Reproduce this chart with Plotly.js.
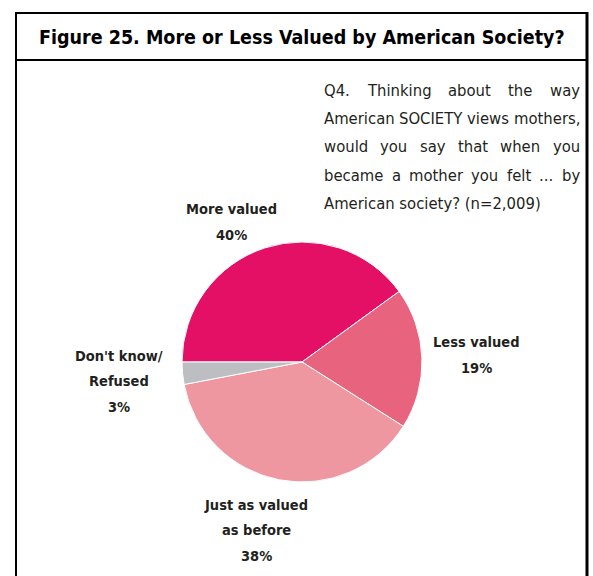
<!DOCTYPE html>
<html>
<head>
<meta charset="utf-8">
<script src="https://cdn.plot.ly/plotly-3.0.1.min.js"></script>
<style>
html,body{margin:0;padding:0;background:#fff;}
#chart{width:593px;height:576px;}
</style>
</head>
<body>
<div id="chart"></div>
<script>
// ---- data ----
const categories = ["More valued", "Less valued", "Just as valued as before", "Don't know/Refused"];
const labelLines = [["More valued"], ["Less valued"], ["Just as valued", "as before"], ["Don't know/", "Refused"]];
const values = [40, 19, 38, 3];
const colors = ["#E31066", "#E8647E", "#EF97A0", "#BDBEC2"];
const titleText = "Figure 25. More or Less Valued by American Society?";
const questionLines = [
  "Q4. Thinking about the way",
  "American SOCIETY views mothers,",
  "would you say that when you",
  "became a mother you felt ... by",
  "American society? (n=2,009)"
];

// ---- layout helpers (pixel -> paper) ----
const W = 593, H = 576;
const px = x => x / W;
const py = y => 1 - y / H;
const textColor = "#231F20";
const condFont = "'DejaVu Sans Condensed', 'Liberation Sans Narrow', sans-serif";

// pie geometry
const cx = 302, cy = 362, r = 120;

const annotations = [];

// title
annotations.push({
  xref: "paper", yref: "paper", x: px(302), y: py(37),
  xanchor: "center", yanchor: "middle", showarrow: false,
  text: "<b>" + titleText + "</b>",
  font: {family: condFont, size: 19.5, color: "#000"}
});

// slice labels (centre of text block, pixels) — same order as categories
const labelPos = [[231, 222], [476, 355], [256, 530], [119, 381]];
const lineGap = 25.5;
categories.forEach((c, i) => {
  const lines = labelLines[i].concat([values[i] + "%"]);
  const n = lines.length;
  lines.forEach((t, k) => {
    const yy = labelPos[i][1] + (k - (n - 1) / 2) * lineGap;
    annotations.push({
      xref: "paper", yref: "paper", x: px(labelPos[i][0]), y: py(yy),
      xanchor: "center", yanchor: "middle", showarrow: false,
      text: "<b>" + t + "</b>",
      font: {family: condFont, size: 14.5, color: textColor}
    });
  });
});

// question text, justified between left and right edges
const qFontSize = 16.5;
const qLeft = 322, qRight = 578;
const qLineY = [90, 118, 147, 175, 203];
const ctx = document.createElement("canvas").getContext("2d");
ctx.font = qFontSize + "px 'DejaVu Sans Condensed'";
questionLines.forEach((line, li) => {
  const last = li === questionLines.length - 1;
  if (last) {
    annotations.push({
      xref: "paper", yref: "paper", x: px(qLeft), y: py(qLineY[li]),
      xanchor: "left", yanchor: "middle", showarrow: false, text: line,
      font: {family: condFont, size: qFontSize, color: textColor}
    });
    return;
  }
  const words = line.split(" ");
  const widths = words.map(w => ctx.measureText(w).width);
  const total = widths.reduce((a, b) => a + b, 0);
  const gap = (qRight - qLeft - total) / (words.length - 1);
  let x = qLeft;
  words.forEach((w, wi) => {
    annotations.push({
      xref: "paper", yref: "paper", x: px(x), y: py(qLineY[li]),
      xanchor: "left", yanchor: "middle", showarrow: false, text: w,
      font: {family: condFont, size: qFontSize, color: textColor}
    });
    x += widths[wi] + gap;
  });
});

const shapes = [
  {type: "line", xref: "paper", yref: "paper", x0: px(15), x1: px(588), y0: py(13), y1: py(13), line: {color: "#000", width: 2}},
  {type: "line", xref: "paper", yref: "paper", x0: px(15), x1: px(588), y0: py(60), y1: py(60), line: {color: "#000", width: 2}},
  {type: "line", xref: "paper", yref: "paper", x0: px(16), x1: px(16), y0: py(12), y1: py(580), line: {color: "#000", width: 2}},
  {type: "line", xref: "paper", yref: "paper", x0: px(587), x1: px(587), y0: py(12), y1: py(580), line: {color: "#000", width: 3}}
];

const trace = {
  type: "pie",
  labels: categories,
  values: values,
  marker: {colors: colors, line: {color: "#ffffff", width: 1}},
  sort: false,
  direction: "clockwise",
  rotation: -90,
  textinfo: "none",
  hoverinfo: "label+percent",
  showlegend: false,
  domain: {x: [px(cx - r), px(cx + r)], y: [py(cy + r), py(cy - r)]}
};

const layout = {
  width: W, height: H,
  margin: {l: 0, r: 0, t: 0, b: 0},
  paper_bgcolor: "#fff", plot_bgcolor: "#fff",
  showlegend: false,
  annotations: annotations,
  shapes: shapes
};

Plotly.newPlot("chart", [trace], layout, {displayModeBar: false, staticPlot: true});
</script>
</body>
</html>
